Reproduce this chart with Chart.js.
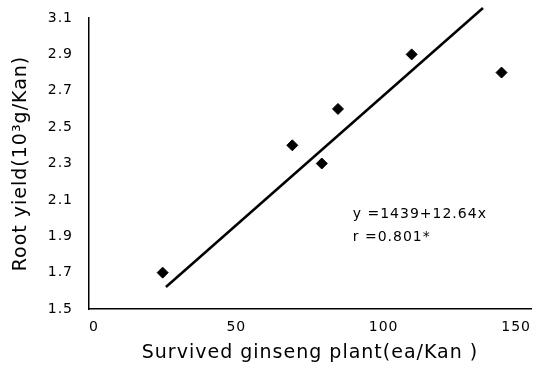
<!DOCTYPE html>
<html lang="en">
<head>
  <meta charset="UTF-8" />
  <title>Root yield vs survived plants</title>
  <script src="https://cdn.jsdelivr.net/npm/chart.js"></script>
  <style>
    html, body { margin: 0; padding: 0; background: #fff; }
  </style>
</head>
<body>
  <canvas id="chart" width="541" height="370"></canvas>

  <script>
    // Observed points (survived plants, root yield)
    const plants = [25, 69, 79, 84.5, 109.5, 140];
    const yields = [1.7, 2.4, 2.3, 2.6, 2.9, 2.8];

    // Fitted line end points as drawn in the figure
    const fitX = [26.1, 133.7];
    const fitY = [1.621, 3.155];

    const xTicks = [0, 50, 100, 150];
    const yTicks = [1.5, 1.7, 1.9, 2.1, 2.3, 2.5, 2.7, 2.9, 3.1];

    const noteLines = ['y =1439+12.64x', 'r =0.801*'];
    const notePos = { x: 89.5, y: 2.02 };

    const font = "'DejaVu Sans', 'Liberation Sans', sans-serif";

    // the scanned figure has loosely spaced lettering
    const spacing = {
      id: 'spacing',
      beforeLayout(chart) { chart.ctx.letterSpacing = '1px'; },
      beforeDraw(chart) { chart.ctx.letterSpacing = '1px'; }
    };

    const notePlugin = {
      id: 'note',
      afterDatasetsDraw(chart) {
        const { ctx, scales } = chart;
        const px = scales.x.getPixelForValue(notePos.x);
        const py = scales.y.getPixelForValue(notePos.y);
        ctx.save();
        ctx.fillStyle = '#000';
        ctx.font = '14px ' + font;
        ctx.letterSpacing = '1px';
        ctx.textBaseline = 'middle';
        noteLines.forEach((t, i) => ctx.fillText(t, px, py + i * 23));
        ctx.restore();
      }
    };

    new Chart(document.getElementById('chart'), {
      type: 'scatter',
      data: {
        datasets: [
          {
            data: plants.map((x, i) => ({ x, y: yields[i] })),
            pointStyle: 'rectRot',
            radius: 5.5,
            backgroundColor: '#000',
            borderColor: '#000'
          },
          {
            type: 'line',
            data: fitX.map((x, i) => ({ x, y: fitY[i] })),
            borderColor: '#000',
            borderWidth: 2.5,
            pointRadius: 0,
            clip: false
          }
        ]
      },
      options: {
        responsive: false,
        animation: false,
        layout: { padding: { top: 18, right: 0, left: 0, bottom: 0 } },
        plugins: { legend: { display: false }, tooltip: { enabled: false } },
        scales: {
          x: {
            type: 'linear',
            min: 0, max: 150,
            afterBuildTicks: s => { s.ticks = xTicks.map(v => ({ value: v })); },
            afterFit: s => { s.height = 61; s.paddingRight = 10; },
            grid: { display: false, drawTicks: false },
            border: { color: '#000', width: 1.5 },
            ticks: { color: '#000', font: { family: font, size: 14 }, padding: 10, align: 'inner' },
            title: {
              display: true,
              text: 'Survived ginseng plant(ea/Kan )',
              color: '#000',
              font: { family: font, size: 19 },
              padding: { top: 0, bottom: 6 }
            }
          },
          y: {
            min: 1.5, max: 3.1,
            afterBuildTicks: s => { s.ticks = yTicks.map(v => ({ value: v })); },
            afterFit: s => { s.width = 89; s.paddingTop = 0; s.paddingBottom = 0; },
            grid: { display: false, drawTicks: false },
            border: { color: '#000', width: 1.5 },
            ticks: {
              color: '#000',
              font: { family: font, size: 14 },
              padding: 16,
              callback: v => Number(v).toFixed(1)
            },
            title: {
              display: true,
              text: 'Root yield(10\u00B3g/Kan)',
              color: '#000',
              font: { family: font, size: 19 },
              padding: { top: 10, bottom: 0 }
            }
          }
        }
      },
      plugins: [spacing, notePlugin]
    });
  </script>
</body>
</html>
